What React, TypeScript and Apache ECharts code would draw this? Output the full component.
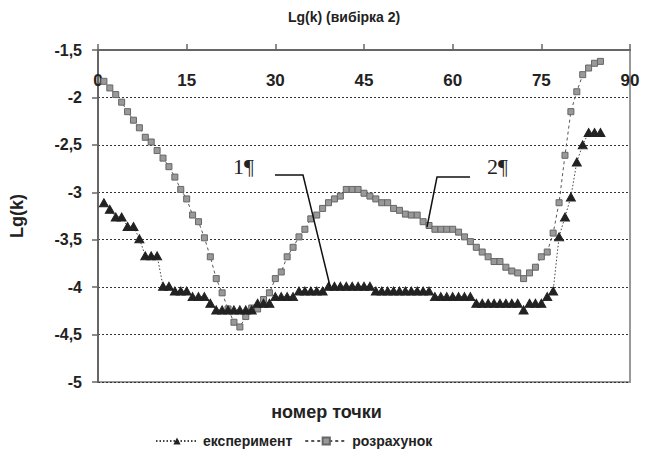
import React, { useEffect, useRef } from "react";
import * as echarts from "echarts";

const titleText = "Lg(k) (вибірка 2)";
const xAxisName = "номер точки";
const yAxisName = "Lg(k)";
const seriesNames = ["експеримент", "розрахунок"];

const pointNumbers = Array.from({ length: 85 }, (_, i) => i + 1);

const experiment = [
  -3.11, -3.18, -3.26, -3.26, -3.36, -3.36, -3.49, -3.67, -3.67, -3.67,
  -3.99, -3.99, -4.04, -4.04, -4.04, -4.10, -4.10, -4.10, -4.17, -4.24,
  -4.24, -4.24, -4.24, -4.24, -4.24, -4.24, -4.17, -4.17, -4.17, -4.10,
  -4.10, -4.10, -4.10, -4.04, -4.04, -4.04, -4.04, -4.04, -3.99, -3.99,
  -3.99, -3.99, -3.99, -3.99, -3.99, -3.99, -4.04, -4.04, -4.04, -4.04,
  -4.04, -4.04, -4.04, -4.04, -4.04, -4.04, -4.10, -4.10, -4.10, -4.10,
  -4.10, -4.10, -4.10, -4.17, -4.17, -4.17, -4.17, -4.17, -4.17, -4.17,
  -4.17, -4.24, -4.17, -4.17, -4.17, -4.10, -4.04, -3.47, -3.26, -3.05,
  -2.68, -2.50, -2.37, -2.37, -2.37,
];

const calculation = [
  -1.83, -1.90, -1.97, -2.05, -2.15, -2.24, -2.32, -2.42, -2.47, -2.56,
  -2.64, -2.73, -2.84, -2.97, -3.07, -3.24, -3.31, -3.48, -3.68, -3.91,
  -4.06, -4.23, -4.37, -4.42, -4.31, -4.22, -4.23, -4.13, -4.06, -3.91,
  -3.84, -3.68, -3.58, -3.47, -3.39, -3.28, -3.24, -3.17, -3.11, -3.07,
  -3.04, -2.97, -2.97, -2.97, -3.01, -3.04, -3.07, -3.11, -3.11, -3.17,
  -3.19, -3.23, -3.24, -3.24, -3.31, -3.35, -3.39, -3.39, -3.39, -3.39,
  -3.42, -3.47, -3.52, -3.58, -3.63, -3.68, -3.73, -3.73, -3.79, -3.83,
  -3.85, -3.91, -3.85, -3.79, -3.68, -3.63, -3.43, -3.11, -2.61, -2.15,
  -1.94, -1.76, -1.69, -1.64, -1.62,
];

const FONT = "'Liberation Sans', Arial, sans-serif";

export default function App() {
  const ref = useRef<HTMLDivElement>(null);

  useEffect(() => {
    if (!ref.current) return;
    const chart = echarts.init(ref.current, undefined, { renderer: "svg" });
    const expData = pointNumbers.map((x, i) => [x, experiment[i]]);
    const calcData = pointNumbers.map((x, i) => [x, calculation[i]]);

    chart.setOption({
      animation: false,
      backgroundColor: "#ffffff",
      title: {
        text: titleText,
        left: 283,
        top: 5,
        textStyle: { fontFamily: FONT, fontSize: 14, fontWeight: "bold", color: "#222" },
      },
      legend: {
        left: 150,
        top: 429,
        itemWidth: 42,
        itemHeight: 9,
        itemGap: 12,
        textStyle: { fontFamily: FONT, fontSize: 14, fontWeight: "bold", color: "#222" },
        data: seriesNames,
      },
      grid: {
        left: 96,
        top: 50,
        width: 534,
        height: 332,
        show: true,
        borderColor: "#999",
        borderWidth: 2,
      },
      xAxis: {
        type: "value",
        position: "top",
        min: 0,
        max: 90,
        interval: 15,
        axisLine: { show: true, onZero: false, lineStyle: { color: "#666", width: 2 } },
        axisTick: { show: true, inside: false, length: 6, lineStyle: { color: "#666", width: 1.5 } },
        axisLabel: {
          inside: true,
          margin: 22,
          fontFamily: FONT,
          fontSize: 17,
          fontWeight: "bold",
          color: "#222",
        },
        splitLine: { show: false },
      },
      yAxis: {
        type: "value",
        min: -5,
        max: -1.5,
        interval: 0.5,
        name: yAxisName,
        nameLocation: "middle",
        nameRotate: 90,
        nameGap: 72,
        nameTextStyle: { fontFamily: FONT, fontSize: 18, fontWeight: "bold", color: "#222" },
        axisLine: { show: true, onZero: false, lineStyle: { color: "#666", width: 2 } },
        axisTick: { show: true, inside: false, length: 6, lineStyle: { color: "#666", width: 1.5 } },
        axisLabel: {
          margin: 16,
          fontFamily: FONT,
          fontSize: 16,
          fontWeight: "bold",
          color: "#222",
          formatter: (v: number) => String(v).replace(".", ","),
        },
        splitLine: { show: true, lineStyle: { color: "#333", type: [2, 2], width: 1 } },
      },
      series: [
        {
          name: seriesNames[0],
          type: "line",
          data: expData,
          symbol: "triangle",
          symbolSize: [9, 8],
          itemStyle: { color: "#222", borderColor: "#222" },
          lineStyle: { color: "#444", width: 1, type: [1.5, 2] },
          z: 3,
        },
        {
          name: seriesNames[1],
          type: "line",
          data: calcData,
          symbol: "rect",
          symbolSize: 6,
          itemStyle: { color: "#999", borderColor: "#666", borderWidth: 1 },
          lineStyle: { color: "#555", width: 1, type: [3, 3] },
          z: 2,
        },
      ],
      graphic: [
        {
          type: "text",
          left: 233,
          top: 155,
          style: { text: "1¶", font: "22px 'Liberation Serif', 'Times New Roman', serif", fill: "#222" },
          z: 10,
        },
        {
          type: "polyline",
          shape: { points: [[275, 175], [303, 175], [330, 286]] },
          style: { stroke: "#111", lineWidth: 1.5, fill: "none" },
          z: 10,
        },
        {
          type: "text",
          left: 487,
          top: 155,
          style: { text: "2¶", font: "22px 'Liberation Serif', 'Times New Roman', serif", fill: "#222" },
          z: 10,
        },
        {
          type: "polyline",
          shape: { points: [[470, 177], [437, 177], [427, 227]] },
          style: { stroke: "#111", lineWidth: 1.5, fill: "none" },
          z: 10,
        },
        {
          type: "text",
          left: "center",
          top: 403,
          style: {
            text: xAxisName,
            font: "bold 18px 'Liberation Sans', Arial, sans-serif",
            fill: "#222",
          },
        },
      ],
    });

    return () => chart.dispose();
  }, []);

  return (
    <div
      ref={ref}
      style={{ position: "fixed", left: 0, top: 0, width: 653, height: 450 }}
    />
  );
}
